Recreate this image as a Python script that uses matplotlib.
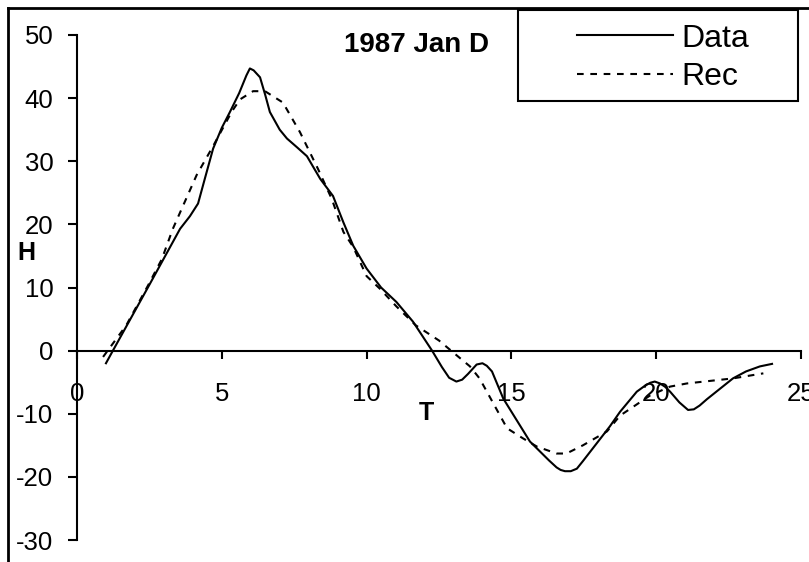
import matplotlib
matplotlib.use("Agg")
import matplotlib.pyplot as plt
from matplotlib.lines import Line2D
from matplotlib.patches import Rectangle

plt.rcParams['font.family'] = ['Liberation Sans', 'DejaVu Sans']
plt.rcParams['axes.unicode_minus'] = False

# =============================================================================
# Dados
# =============================================================================

data_t = [1.0, 1.24, 2.52, 3.56, 3.9, 4.18, 4.4, 4.7, 5.0, 5.28, 5.6, 5.85,
          5.97, 6.1, 6.32, 6.5, 6.66, 7.0, 7.25, 7.6, 7.94, 8.4, 8.84, 9.2,
          9.54, 10.0, 10.5, 11.03, 11.6, 12.26, 12.6, 12.85, 13.1, 13.3, 13.5,
          13.8, 14.0, 14.15, 14.33, 14.72, 15.64, 16.3, 16.56, 16.7, 16.85,
          17.05, 17.26, 17.47, 18.4, 18.75, 19.33, 19.6, 19.79, 19.95, 20.13,
          20.3, 20.48, 20.8, 21.1, 21.3, 21.5, 21.75, 22.65, 23.1, 23.58, 24.0]
data_h = [-2.0, 0.0, 10.6, 19.3, 21.3, 23.3, 27.0, 32.0, 35.3, 37.8, 40.8, 43.6,
          44.7, 44.4, 43.3, 40.5, 37.8, 35.0, 33.6, 32.2, 30.8, 27.2, 24.5, 20.3,
          16.6, 13.0, 10.0, 7.7, 4.6, 0.0, -2.6, -4.3, -4.9, -4.6, -3.7,
          -2.2, -2.0, -2.4, -3.3, -7.6, -14.4, -17.4, -18.5, -18.9, -19.1,
          -19.1, -18.7, -17.5, -12.0, -9.7, -6.5, -5.6, -5.1, -4.9, -5.2,
          -5.7, -6.5, -8.2, -9.4, -9.3, -8.7, -7.7, -4.4, -3.3, -2.5, -2.1]

rec_t = [0.9, 1.7, 2.45, 2.93, 3.31, 4.13, 4.7, 5.35, 5.63, 6.08, 6.49, 7.11,
         7.7, 8.32, 8.8, 9.2, 9.54, 10.0, 10.46, 11.03, 11.7, 12.5, 13.15,
         13.57, 13.9, 14.85, 15.4, 15.88, 16.56, 16.9, 17.47, 18.3, 18.75,
         19.79, 20.48, 21.06, 22.65, 23.7]
rec_h = [-1.0, 4.0, 10.3, 14.5, 19.3, 27.8, 32.4, 37.9, 39.8, 41.1, 41.1, 39.3,
         34.6, 28.8, 24.0, 18.8, 16.4, 11.8, 9.8, 7.0, 4.0, 1.6, -0.9,
         -2.5, -4.4, -12.3, -13.9, -15.2, -16.3, -16.3, -15.0, -12.8, -10.3,
         -7.1, -5.7, -5.2, -4.4, -3.6]

x_ticks = [0, 5, 10, 15, 20, 25]
y_ticks = [-30, -20, -10, 0, 10, 20, 30, 40, 50]

# =============================================================================
# Figura
# =============================================================================

W, H = 809, 562
fig = plt.figure(figsize=(W / 100, H / 100), dpi=100)
ax = fig.add_axes([77 / W, 1 - 540 / H, 724 / W, 505 / H])

ax.plot(data_t, data_h, color='black', linewidth=1.5, label='Data',
        solid_joinstyle='round')
ax.plot(rec_t, rec_h, color='black', linewidth=1.5, dashes=(3.2, 3.2), label='Rec')

ax.set_xlim(0, 25)
ax.set_ylim(-30, 50)
ax.set_xticks(x_ticks)
ax.set_yticks(y_ticks)

for s in ['top', 'right']:
    ax.spines[s].set_visible(False)
ax.spines['left'].set_position(('data', 0))
ax.spines['bottom'].set_position(('data', 0))
ax.spines['left'].set_linewidth(1.5)
ax.spines['bottom'].set_linewidth(1.5)

ax.tick_params(axis='x', direction='out', length=6, width=1.5, pad=16.5,
               labelsize=18.5)
ax.tick_params(axis='y', direction='out', length=6.5, width=1.5, pad=10.5,
               labelsize=18.5)

# rótulos dos eixos e título
fig.text(26 / W, 1 - 253 / H, 'H', fontsize=18, fontweight='bold',
         ha='center', va='center')
fig.text(426 / W, 1 - 413 / H, 'T', fontsize=18, fontweight='bold',
         ha='center', va='center')
fig.text(416 / W, 1 - 45 / H, '1987 Jan D', fontsize=20, fontweight='bold',
         ha='center', va='center')

# moldura externa (só esquerda e topo visíveis)
fig.add_artist(Line2D([8 / W, 8 / W], [0, 1 - 8 / H], color='black', linewidth=2))
fig.add_artist(Line2D([8 / W, 1], [1 - 8 / H, 1 - 8 / H], color='black', linewidth=2))

# caixa da legenda
fig.add_artist(Rectangle((518 / W, 1 - 101 / H), 280 / W, 91 / H, fill=False,
                         edgecolor='black', linewidth=1.5))
leg = ax.legend(loc='center left', bbox_to_anchor=(577 / W, 1 - 58 / H),
                bbox_transform=fig.transFigure, frameon=False, fontsize=23,
                handlelength=3.0, handletextpad=0.28, labelspacing=0.28,
                borderpad=0, borderaxespad=0)

fig.savefig('out.png', dpi=100)
